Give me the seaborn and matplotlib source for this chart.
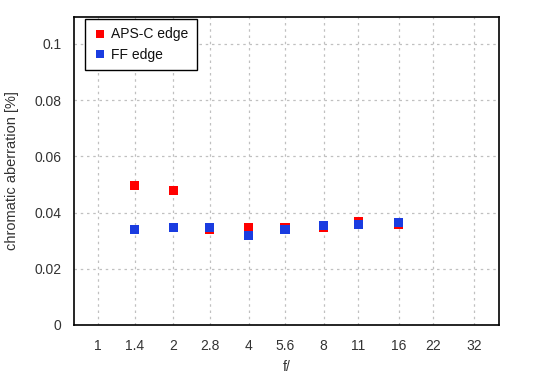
import matplotlib
matplotlib.use("Agg")
import matplotlib.pyplot as plt
import seaborn as sns
import pandas as pd
from matplotlib.ticker import FixedLocator, NullFormatter, MultipleLocator

apertures = [1.4, 2, 2.8, 4, 5.6, 8, 11, 16]
aps_c = [0.0497, 0.0479, 0.0340, 0.0347, 0.0347, 0.0347, 0.0369, 0.0358]
ff = [0.0340, 0.0347, 0.0347, 0.0319, 0.0340, 0.0354, 0.0358, 0.0365]
xticks = [1, 1.4, 2, 2.8, 4, 5.6, 8, 11, 16, 22, 32]
xtick_labels = ["1", "1.4", "2", "2.8", "4", "5.6", "8", "11", "16", "22", "32"]
series_names = ["APS-C edge", "FF edge"]
colors = ["#ff0000", "#1a3ce0"]

df = pd.DataFrame({
    "f": apertures * 2,
    "ca": aps_c + ff,
    "series": [series_names[0]] * len(apertures) + [series_names[1]] * len(apertures),
})

sns.set_style("white")
plt.rcParams["font.family"] = ["Liberation Sans", "DejaVu Sans"]
plt.rcParams["font.size"] = 10

fig = plt.figure(figsize=(5.5, 3.8), dpi=100)
ax = fig.add_axes([74/550, 1-325/380, (499-74)/550, (325-17)/380])

sns.scatterplot(data=df, x="f", y="ca", hue="series", hue_order=series_names,
                palette=colors, marker="s", s=42, linewidth=0, ax=ax, zorder=3)

ax.set_xscale("log", base=2)
ax.set_xlim(0.80, 40.3)
ax.xaxis.set_major_locator(FixedLocator(xticks))
ax.set_xticklabels(xtick_labels)
ax.xaxis.set_minor_formatter(NullFormatter())
ax.xaxis.set_minor_locator(FixedLocator([]))
ax.set_ylim(0, 0.1096)
ax.yaxis.set_major_locator(FixedLocator([0, 0.02, 0.04, 0.06, 0.08, 0.1]))
ax.set_yticklabels(["0", "0.02", "0.04", "0.06", "0.08", "0.1"])
ax.yaxis.set_minor_locator(MultipleLocator(0.01))

ax.grid(True, which="major", color="#c0c0c0", linestyle=(0, (2, 3)), linewidth=0.9)
ax.tick_params(axis="both", which="both", direction="in", color="black")
ax.tick_params(axis="x", which="major", length=5, pad=10, labelcolor="#333333", labelsize=10)
ax.tick_params(axis="y", which="major", length=5, pad=9, labelcolor="#333333", labelsize=10)
ax.tick_params(axis="y", which="minor", length=3)
for sp in ax.spines.values():
    sp.set_color("black")
    sp.set_linewidth(1.2)

ax.set_xlabel("f/", labelpad=5, color="#333333", fontsize=10)
ax.set_ylabel("chromatic aberration [%]", labelpad=11, color="#333333", fontsize=10.5)

leg = ax.legend(loc="upper left", bbox_to_anchor=(0.026, 0.993), frameon=True,
                fancybox=False, edgecolor="black", framealpha=1, fontsize=10,
                handletextpad=0.3, borderpad=0.6, labelspacing=0.45, markerscale=0.85,
                handlelength=1.0, borderaxespad=0)
leg.get_frame().set_linewidth(1.0)
for t in leg.get_texts():
    t.set_color("#111111")

fig.savefig("out.png", dpi=100)
